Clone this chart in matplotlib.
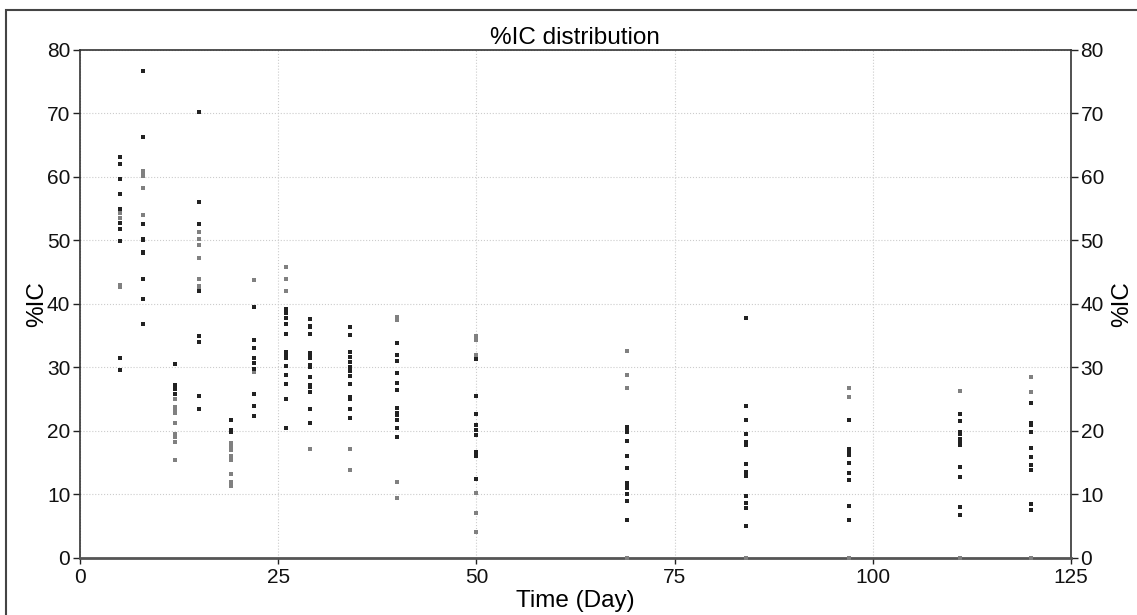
import matplotlib.pyplot as plt
from matplotlib.patches import Rectangle

plt.rcParams['font.family'] = ['Liberation Sans', 'DejaVu Sans']

# sampling days
days = [5, 8, 12, 15, 19, 22, 26, 29, 34, 40, 50, 69, 84, 97, 111, 120]

# %IC per day, main group (dark markers)
dark_ic = [
    [63.1, 62.0, 59.7, 57.4, 54.9, 52.8, 51.8, 49.9, 31.5, 29.6],
    [76.7, 66.3, 52.6, 50.2, 50.1, 48.2, 48.0, 44.0, 40.8, 36.9],
    [30.6, 27.2, 26.9, 26.6, 25.8],
    [70.2, 56.0, 52.6, 42.0, 35.0, 34.0, 25.5, 23.4],
    [21.7, 20.2, 19.9],
    [39.5, 34.3, 33.0, 31.5, 30.7, 29.8, 25.8, 24.0, 22.3],
    [39.2, 38.6, 37.8, 36.9, 35.3, 32.5, 32.1, 31.5, 30.3, 28.8, 27.4, 25.0, 20.4],
    [37.6, 36.6, 36.4, 35.3, 32.3, 31.9, 31.5, 30.4, 30.0, 28.5, 27.3, 26.9, 26.1, 23.4, 21.3],
    [36.3, 35.1, 32.5, 31.7, 30.9, 30.0, 29.8, 29.5, 28.6, 27.4, 25.4, 25.1, 23.4, 22.1],
    [33.8, 31.9, 31.1, 29.2, 27.6, 26.5, 23.6, 22.9, 22.5, 21.7, 20.5, 19.0],
    [31.3, 25.5, 22.7, 20.9, 20.2, 19.4, 16.7, 16.0, 12.5],
    [20.6, 20.2, 19.8, 18.4, 16.1, 14.2, 11.8, 11.3, 11.0, 10.1, 8.9, 6.0],
    [37.8, 24.0, 21.7, 19.6, 18.2, 17.8, 14.8, 13.5, 12.9, 9.8, 8.6, 7.9, 5.0],
    [21.7, 17.1, 16.7, 16.2, 15.0, 13.4, 12.3, 8.2, 6.0],
    [22.6, 21.5, 19.8, 19.6, 18.7, 18.2, 17.8, 14.4, 12.7, 8.1, 6.7],
    [24.4, 21.3, 20.9, 19.8, 17.3, 15.9, 14.6, 13.9, 8.5, 7.5],
]

# %IC per day, second group (grey markers)
light_ic = [
    [54.3, 53.6, 43.0, 42.7],
    [61.0, 60.7, 60.1, 58.3, 54.0],
    [25.0, 23.8, 23.4, 22.9, 21.3, 19.5, 19.0, 18.3, 15.4],
    [51.4, 50.2, 49.3, 47.2, 43.9, 42.9, 42.6],
    [18.1, 17.5, 17.0, 16.1, 15.4, 13.3, 12.0, 11.4],
    [43.7, 29.3],
    [45.9, 43.9, 42.0],
    [17.2],
    [17.1, 13.8],
    [38.0, 37.5, 11.9, 9.4],
    [34.9, 34.3, 32.0, 10.2, 7.1, 4.1],
    [32.6, 28.8, 26.7, 0.0],
    [0.0],
    [26.7, 25.4, 0.0],
    [26.3, 0.0],
    [28.5, 26.1, 0.0],
]

fig = plt.figure(figsize=(11.37, 6.15), dpi=100)
ax = fig.add_axes([0.0704, 0.0927, 0.8714, 0.826])

for day, dvals, lvals in zip(days, dark_ic, light_ic):
    ax.scatter([day] * len(lvals), lvals, marker='s', s=10, color='#808080',
               linewidths=0, zorder=3, clip_on=False)
    ax.scatter([day] * len(dvals), dvals, marker='s', s=10, color='#222222',
               linewidths=0, zorder=4, clip_on=False)

ax.set_xlim(0, 125)
ax.set_ylim(0, 80)
ax.set_xticks([0, 25, 50, 75, 100, 125])
ax.set_yticks(range(0, 81, 10))
ax.grid(True, linestyle=':', color='#cccccc', linewidth=0.8)
ax.set_axisbelow(True)

ax.tick_params(axis='both', labelsize=15, direction='out', length=4,
               width=1, color='#222222', labelcolor='#111111')
ax.tick_params(axis='y', left=True, right=True, labelleft=True, labelright=True,
               length=5, pad=2)

for side in ['left', 'right', 'top']:
    ax.spines[side].set_color('#333333')
    ax.spines[side].set_linewidth(1.2)
ax.spines['bottom'].set_color('#555555')
ax.spines['bottom'].set_linewidth(2)

ax.set_title('%IC distribution', fontsize=17.5, pad=4)
ax.set_xlabel('Time (Day)', fontsize=17.5, labelpad=2)
ax.set_ylabel('%IC', fontsize=17.5, labelpad=-1)
ax2 = ax.secondary_yaxis('right')
ax2.set_yticks([])
ax2.spines['right'].set_visible(False)
ax2.set_ylabel('%IC', fontsize=17.5, labelpad=29)

# outer frame
fig.patches.append(Rectangle((6 / 1137, -0.1), 1.2, 1.1 - 10 / 615, fill=False,
                             edgecolor='#444444', linewidth=1.5,
                             transform=fig.transFigure, figure=fig))

fig.savefig('out.png', dpi=100)
